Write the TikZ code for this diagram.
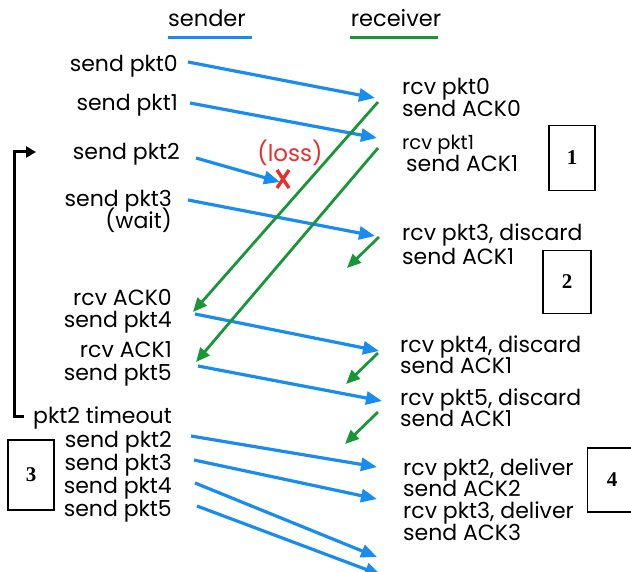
\documentclass[tikz,border=0pt]{standalone}
\usepackage{fontspec}
\setmainfont{Poppins}
\newfontfamily\numfont{Liberation Serif}
\usetikzlibrary{arrows.meta,calc}
\definecolor{pblue}{RGB}{25,140,240}
\definecolor{pgreen}{RGB}{25,150,55}
\definecolor{lossred}{RGB}{235,45,45}
\begin{document}
\begin{tikzpicture}[x=1pt,y=-1pt,
  lbl/.style={inner sep=0pt, font=\fontsize{22}{24}\selectfont, text height=13pt, text depth=4pt},
  sl/.style={lbl, anchor=east},
  rl/.style={lbl, anchor=west},
  hdr/.style={inner sep=0pt, font=\fontsize{22.5}{24}\selectfont, text height=15pt, text depth=5pt},
  pkt/.style={draw=pblue, line width=3.2pt, -{Triangle[length=16pt,width=13pt]}},
  ack/.style={draw=pgreen, line width=2.8pt, -{Triangle[length=14pt,width=12pt]}},
  numbox/.style={draw=black, fill=white, line width=1.1pt, font=\numfont\bfseries\fontsize{21}{22}\selectfont}
]
\useasboundingbox (0,0) rectangle (631,572);
% headers
\node[hdr] (snd) at (207,22) {sender};
\node[hdr] (rcv) at (396,22) {receiver};
\draw[pblue, line width=3pt] (168,38) -- (252,38);
\draw[pgreen, line width=3pt] (350,38) -- (438,38);
% sender labels
\node[sl] (s0) at (178,67) {send pkt0};
\node[sl] (s1) at (178,106) {send pkt1};
\node[sl] (s2) at (180,155) {send pkt2};
\node[sl] (s3) at (172,202) {send pkt3};
\node[sl] (sw) at (172,224) {(wait)};
\node[sl] (ra0) at (172,301) {rcv ACK0};
\node[sl] (s4) at (172,323) {send pkt4};
\node[sl] (ra1) at (172,353) {rcv ACK1};
\node[sl] (s5) at (172,376) {send pkt5};
\node[sl] (to) at (172,419) {pkt2 timeout};
\node[sl] (r2) at (172,443) {send pkt2};
\node[sl] (r3) at (172,466) {send pkt3};
\node[sl] (r4) at (172,489) {send pkt4};
\node[sl] (r5) at (172,512) {send pkt5};
% receiver labels
\node[rl] (q0) at (402,90) {rcv pkt0};
\node[rl] (q0a) at (402,112) {send ACK0};
\node[rl, font=\fontsize{19.5}{20}\selectfont] (q1) at (402,145) {rcv pkt1};
\node[rl] (q1a) at (406,167) {send ACK1};
\node[rl] (q3) at (402,236) {rcv pkt3, discard};
\node[rl] (q3a) at (402,260) {send ACK1};
\node[rl] (q4) at (400,348) {rcv pkt4, discard};
\node[rl] (q4a) at (400,369) {send ACK1};
\node[rl] (q5) at (400,401) {rcv pkt5, discard};
\node[rl] (q5a) at (400,422) {send ACK1};
\node[rl] (d2) at (403,471) {rcv pkt2, deliver};
\node[rl] (d2a) at (403,492) {send ACK2};
\node[rl] (d3) at (403,514) {rcv pkt3, deliver};
\node[rl] (d3a) at (403,536) {send ACK3};
% loss
\node[inner sep=0pt, text=lossred, font=\fontsize{23}{24}\selectfont, text height=15pt, text depth=5pt] (loss) at (290,157) {(loss)};
% coordinates for packet arrows
\coordinate (p0a) at (188,62);  \coordinate (p0b) at (375,98);
\coordinate (p1a) at (190,103); \coordinate (p1b) at (377,138);
\coordinate (p2a) at (196,158); \coordinate (p2b) at (280,182);
\coordinate (p3a) at (188,200); \coordinate (p3b) at (375,236);
\coordinate (p4a) at (195,314); \coordinate (p4b) at (379,351);
\coordinate (p5a) at (198,366); \coordinate (p5b) at (382,401);
\coordinate (t2a) at (191,436); \coordinate (t2b) at (377,467);
\coordinate (t3a) at (194,460); \coordinate (t3b) at (377,499);
\coordinate (t4a) at (195,483); \coordinate (t4b) at (377,557);
\coordinate (t5a) at (197,506); \coordinate (t5b) at (381,575);
\draw[pkt] (p0a) -- (p0b);
\draw[pkt] (p1a) -- (p1b);
\draw[pkt] (p2a) -- (p2b);
\draw[pkt] (p3a) -- (p3b);
\draw[pkt] (p4a) -- (p4b);
\draw[pkt] (p5a) -- (p5b);
\draw[pkt] (t2a) -- (t2b);
\draw[pkt] (t3a) -- (t3b);
\draw[pkt] (t4a) -- (t4b);
\draw[pkt] (t5a) -- (t5b);
% red X
\coordinate (xc) at (283,179);
\draw[lossred, line width=3.4pt] ($(xc)+(-6,-9)$) -- ($(xc)+(6,9)$);
\draw[lossred, line width=3.4pt] ($(xc)+(6,-9)$) -- ($(xc)+(-6,9)$);
% ack arrows
\coordinate (a0a) at (378,102); \coordinate (a0b) at (193,312);
\coordinate (a1a) at (378,148); \coordinate (a1b) at (196,362);
\coordinate (a3a) at (379,237); \coordinate (a3b) at (347,268);
\coordinate (a4a) at (378,353); \coordinate (a4b) at (346,384);
\coordinate (a5a) at (378,412); \coordinate (a5b) at (345,444);
\draw[ack] (a0a) -- (a0b);
\draw[ack] (a1a) -- (a1b);
\draw[ack] (a3a) -- (a3b);
\draw[ack] (a4a) -- (a4b);
\draw[ack] (a5a) -- (a5b);
% timeout loop
\coordinate (lb) at (14,416);
\coordinate (lt) at (14,152);
\coordinate (le) at (36,152);
\coordinate (lr) at (24,416);
\draw[black, line width=3pt, -{Triangle[length=10pt,width=11pt]}] (lr) -- (lb) -- (lt) -- (le);
% numbered boxes
\node[numbox, minimum width=46pt, minimum height=65pt] (b1) at (572,158) {1};
\node[numbox, minimum width=48pt, minimum height=63pt] (b2) at (567,282) {2};
\node[numbox, minimum width=46pt, minimum height=70pt] (b3) at (31,475) {3};
\node[numbox, minimum width=46pt, minimum height=64pt, anchor=west] (b4) at (587,480) {};
\node[inner sep=0pt, font=\numfont\bfseries\fontsize{21}{22}\selectfont] (n4) at (612,480) {4};
\end{tikzpicture}
\end{document}
